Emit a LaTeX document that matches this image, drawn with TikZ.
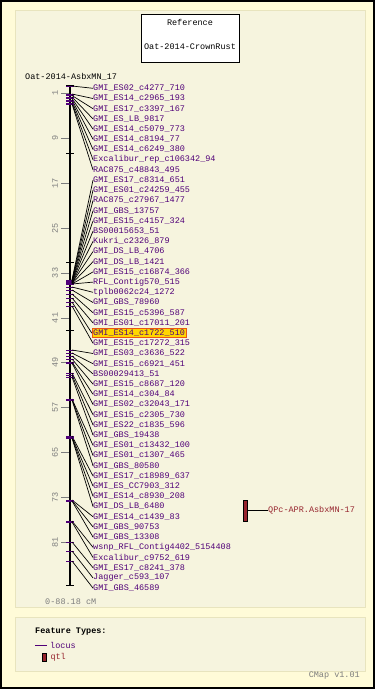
\documentclass[tikz,border=0pt]{standalone}
\usepackage{fontspec}
\newfontfamily\cmapfamily{Liberation Mono}
\newcommand\mapfont{\cmapfamily\fontsize{8.5}{9}\selectfont}
\usetikzlibrary{positioning}
\definecolor{pagebg}{RGB}{255,251,216}
\definecolor{panelbg}{RGB}{246,244,222}
\definecolor{panelrule}{RGB}{232,228,190}
\definecolor{locuscol}{RGB}{80,0,120}
\definecolor{qtlcol}{RGB}{150,35,45}
\definecolor{scalecol}{RGB}{125,125,125}
\definecolor{hilite}{RGB}{255,214,0}
\definecolor{hiliterule}{RGB}{235,85,20}

\begin{document}
\begin{tikzpicture}[x=1pt, y=-1pt,
    marker/.style={anchor=west, inner sep=0pt, text=locuscol, font=\mapfont},
    hot/.style={marker, inner sep=1.2pt, xshift=-1.2pt, fill=hilite, draw=hiliterule},
    plain/.style={anchor=west, inner sep=0pt, font=\mapfont},
    scalelab/.style={rotate=90, inner sep=0pt, text=scalecol, font=\mapfont},
    link/.style={line width=0.7pt},
    locus/.style={locuscol, line width=1pt},
    grid/.style={scalecol, line width=0.8pt},
    qtlbar/.style={draw=black, fill=qtlcol, line width=0.6pt, minimum width=4pt, inner sep=0pt},
  ]
    \useasboundingbox (0,0) rectangle (375,689);
    \fill[pagebg] (0,0) rectangle (375,689);
    \draw[line width=2pt] (1,1) rectangle (374,688);
    \filldraw[fill=panelbg, draw=panelrule] (15,10) rectangle (365,607);
    \filldraw[fill=panelbg, draw=panelrule] (15,617) rectangle (365,671);

    \node[draw, fill=white, line width=0.8pt, minimum width=98pt, minimum height=48pt, inner sep=0pt] (refbox) at (190,38) {};
    \node[font=\mapfont, inner sep=0pt] (reftitle) at (190,22.5) {Reference};
    \node[font=\mapfont, inner sep=0pt] (refname) at (190,46.5) {Oat-2014-CrownRust};

    \node[plain] (title) at (25,77) {Oat-2014-AsbxMN\_17};

    \coordinate (ctop) at (70,85);
    \coordinate (cbot) at (70,585);
    \draw[line width=2.2pt] (ctop) -- (cbot);
    \draw[line width=1pt] (66,85) -- (74,85);
    \draw[line width=1pt] (66,585) -- (74,585);
    \foreach \ty in {153,262,330}
        \draw[line width=1pt] (66,\ty) -- (74,\ty);

    \foreach \v in {1,9,...,81}{
        \draw[grid] (61,{87.5+5.62*\v}) -- (69,{87.5+5.62*\v});
        \node[scalelab] (s\v) at (55,{87.5+5.62*\v}) {\v};
    }

    \foreach \i/\name/\ly/\sty in {
        0/GMI\_ES02\_c4277\_710/86/marker,
        1/GMI\_ES14\_c2965\_193/94/marker,
        2/GMI\_ES17\_c3397\_167/95.5/marker,
        3/GMI\_ES\_LB\_9817/97/marker,
        4/GMI\_ES14\_c5079\_773/98.5/marker,
        5/GMI\_ES14\_c8194\_77/100/marker,
        6/GMI\_ES14\_c6249\_380/101.5/marker,
        7/Excalibur\_rep\_c106342\_94/103/marker,
        8/RAC875\_c48843\_495/104/marker,
        9/GMI\_ES17\_c8314\_651/280/marker,
        10/GMI\_ES01\_c24259\_455/280.5/marker,
        11/RAC875\_c27967\_1477/281/marker,
        12/GMI\_GBS\_13757/281.5/marker,
        13/GMI\_ES15\_c4157\_324/282/marker,
        14/BS00015653\_51/282.5/marker,
        15/Kukri\_c2326\_879/283/marker,
        16/GMI\_DS\_LB\_4706/283/marker,
        17/GMI\_DS\_LB\_1421/283.5/marker,
        18/GMI\_ES15\_c16874\_366/284/marker,
        19/RFL\_Contig570\_515/284/marker,
        20/tplb0062c24\_1272/287/marker,
        21/GMI\_GBS\_78960/290/marker,
        22/GMI\_ES15\_c5396\_587/294/marker,
        23/GMI\_ES01\_c17011\_201/298/marker,
        24/GMI\_ES14\_c1722\_510/302/hot,
        25/GMI\_ES15\_c17272\_315/306/marker,
        26/GMI\_ES03\_c3636\_522/350/marker,
        27/GMI\_ES15\_c6921\_451/353/marker,
        28/BS00029413\_51/356/marker,
        29/GMI\_ES15\_c8687\_120/359/marker,
        30/GMI\_ES14\_c304\_84/362/marker,
        31/GMI\_ES02\_c32043\_171/363/marker,
        32/GMI\_ES15\_c2305\_730/373/marker,
        33/GMI\_ES22\_c1835\_596/375/marker,
        34/GMI\_GBS\_19438/377/marker,
        35/GMI\_ES01\_c13432\_100/399/marker,
        36/GMI\_ES01\_c1307\_465/399.5/marker,
        37/GMI\_GBS\_80580/400/marker,
        38/GMI\_ES17\_c18989\_637/436/marker,
        39/GMI\_ES\_CC7903\_312/437/marker,
        40/GMI\_ES14\_c8930\_208/437.5/marker,
        41/GMI\_DS\_LB\_6480/438/marker,
        42/GMI\_ES14\_c1439\_83/500/marker,
        43/GMI\_GBS\_90753/500.5/marker,
        44/GMI\_GBS\_13308/501/marker,
        45/wsnp\_RFL\_Contig4402\_5154408/521/marker,
        46/Excalibur\_c9752\_619/522/marker,
        47/GMI\_ES17\_c8241\_378/542/marker,
        48/Jagger\_c593\_107/551/marker,
        49/GMI\_GBS\_46589/561/marker}{
        \node[\sty] (m\i) at (93,{88.3+10.2*\i}) {\name};
        \coordinate (l\i) at (72,\ly);
        \draw[locus] (66,\ly) -- (74,\ly);
        \draw[link] (l\i) -- (m\i.west);
    }

    \node[qtlbar, minimum height=21pt] (qtl) at (245,510.5) {};
    \node[plain, text=qtlcol] (qtllab) at (268,510.5) {QPc-APR.AsbxMN-17};
    \draw[link] (qtl.east) -- (qtllab.west);

    \node[plain, text=scalecol] (range) at (45,602) {0-88.18 cM};

    \node[plain, font=\mapfont\bfseries] (lghead) at (35,632) {Feature Types:};
    \coordinate (lga) at (35,645);
    \coordinate (lgb) at (47,645);
    \draw[locuscol, line width=1pt] (lga) -- (lgb);
    \node[plain, text=locuscol, right=3pt of lgb] (lglocus) {locus};
    \node[qtlbar, minimum height=8pt] (lgqtl) at (44,657.5) {};
    \node[plain, text=qtlcol, right=4pt of lgqtl] (lgqtltxt) {qtl};

    \node[anchor=east, inner sep=0pt, font=\mapfont, text=scalecol] (ver) at (360,676) {CMap v1.01};
\end{tikzpicture}
\end{document}
